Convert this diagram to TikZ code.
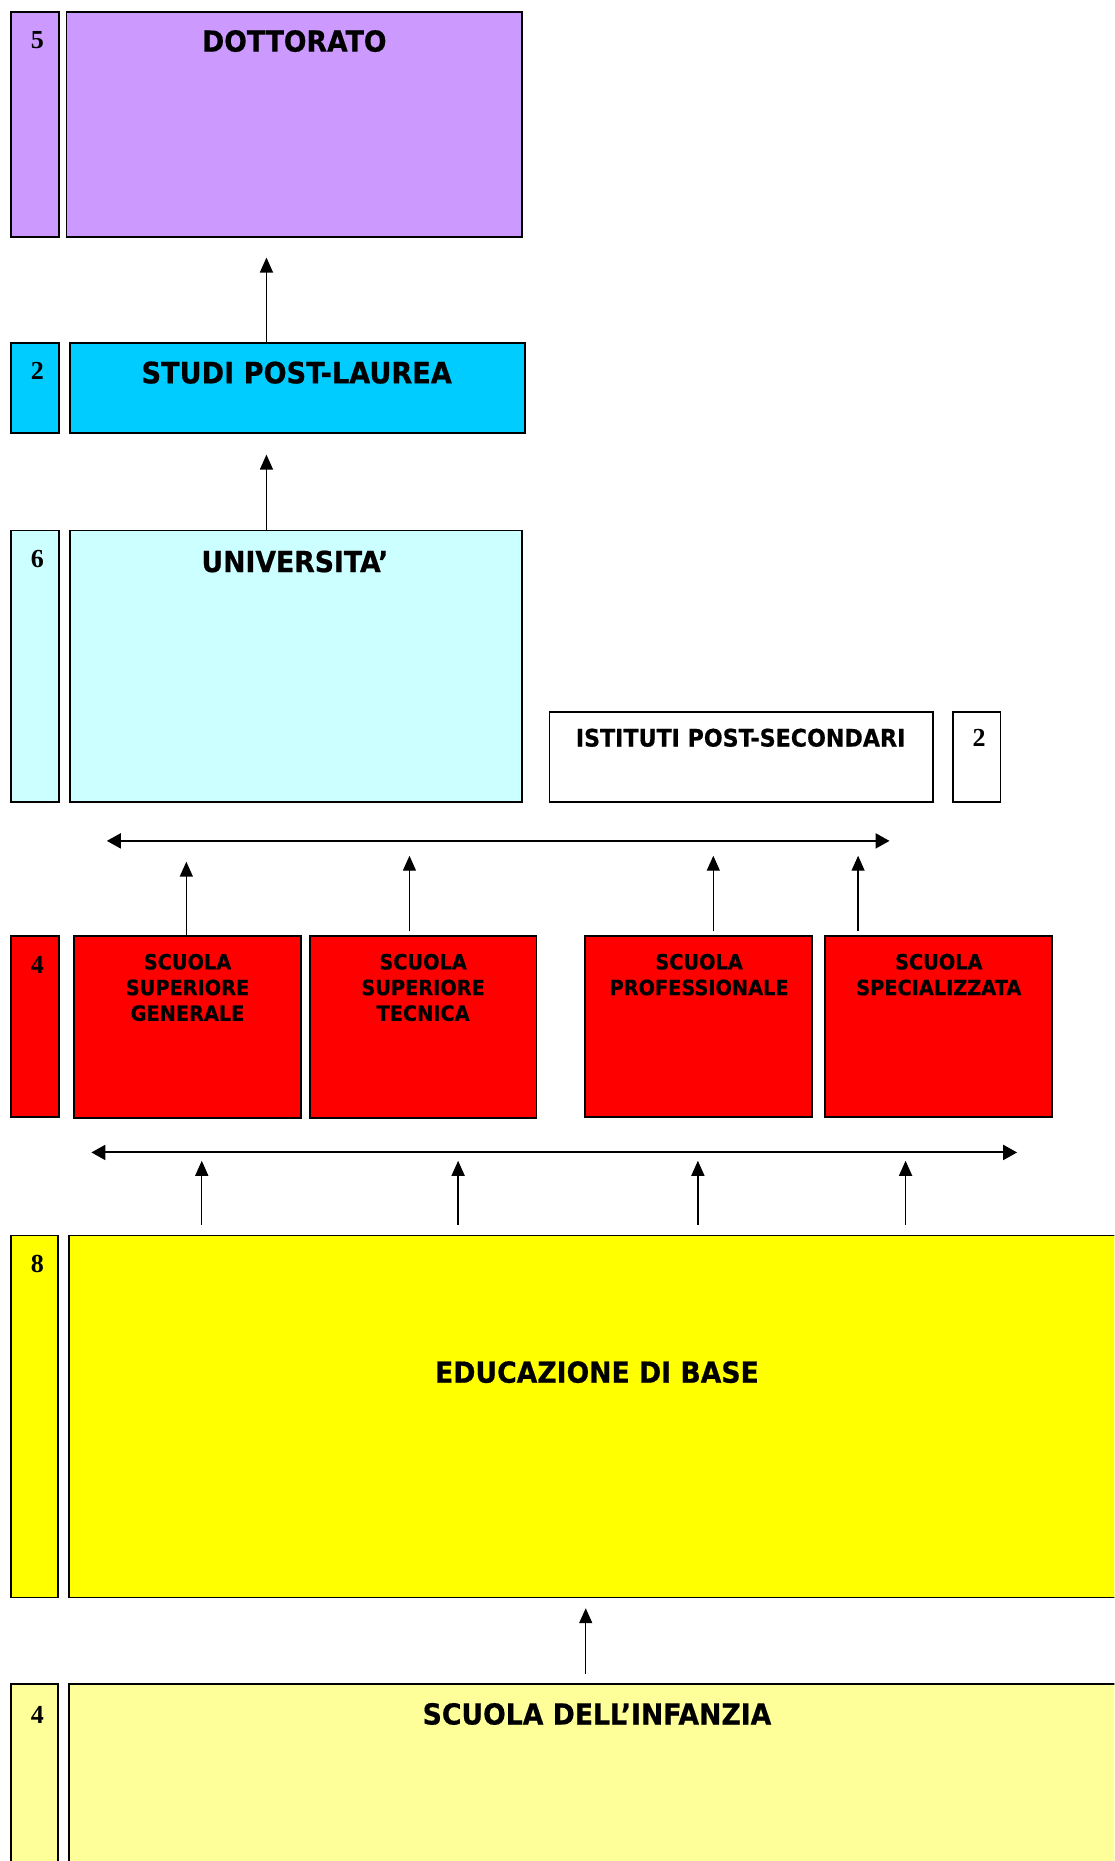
\documentclass[tikz,border=0pt]{standalone}
\usepackage{fontspec}
\setmainfont{Liberation Serif}
\newfontfamily\vb{DejaVu Sans}[FakeStretch=0.92,FakeBold=0.6]
\usetikzlibrary{arrows.meta,fit,calc}
\definecolor{lilla}{HTML}{CC99FF}
\definecolor{azzurro}{HTML}{00CCFF}
\definecolor{celeste}{HTML}{CCFFFF}
\definecolor{rosso}{HTML}{FF0000}
\definecolor{giallo}{HTML}{FFFF00}
\definecolor{giallino}{HTML}{FFFF99}
\begin{document}
\begin{tikzpicture}[x=1.1874bp,y=-1.1874bp,
  box/.style={draw=black, line width=1.9bp, inner sep=0pt, outer sep=0pt},
  big/.style={font=\vb\bfseries\fontsize{29bp}{34bp}\selectfont, anchor=base, inner sep=0pt},
  mid/.style={font=\vb\bfseries\fontsize{24.1bp}{28bp}\selectfont, anchor=base, inner sep=0pt},
  small/.style={font=\vb\bfseries\fontsize{21bp}{25.7bp}\selectfont, anchor=north, align=center, inner sep=0pt},
  num/.style={font=\bfseries\fontsize{26bp}{30bp}\selectfont, anchor=base, inner sep=0pt},
  arr/.style={line width=1.4bp, -{Triangle[length=15bp,width=13bp]}},
  darr/.style={line width=2bp, {Triangle[length=14bp,width=15bp]}-{Triangle[length=14bp,width=15bp]}}]
\useasboundingbox (0,0) rectangle (939,1568);
\clip (0,0) rectangle (939,1568);

% --- DOTTORATO
\node[box, fill=lilla, fit={(9,10) (50,200)}] (b5) {};
\node[box, fill=lilla, fit={(56,10) (440,200)}] (dott) {};
\node[num] (n5) at (31.5,41) {5};
\node[big] (tdott) at (248,43.5) {DOTTORATO};

% --- STUDI POST-LAUREA
\node[box, fill=azzurro, fit={(9,289) (50,365)}] (b2) {};
\node[box, fill=azzurro, fit={(59,289) (442,365)}] (studi) {};
\node[num] (n2) at (31.5,320) {2};
\node[big, font=\vb\bfseries\fontsize{29.5bp}{34bp}\selectfont] (tstudi) at (250,323) {STUDI POST-LAUREA};

% --- UNIVERSITA'
\node[box, fill=celeste, fit={(9,447) (50,676)}] (b6) {};
\node[box, fill=celeste, fit={(59,447) (440,676)}] (univ) {};
\node[num] (n6) at (31.5,478) {6};
\node[big] (tuniv) at (248.5,482) {UNIVERSITA’};

% --- ISTITUTI POST-SECONDARI
\node[box, fill=white, fit={(463,600) (786,676)}] (ist) {};
\node[box, fill=white, fit={(803,600) (843,676)}] (b2r) {};
\node[mid] (tist) at (624,629) {ISTITUTI POST-SECONDARI};
\node[num] (n2r) at (825,629) {2};

% --- red row
\node[box, fill=rosso, fit={(9,789) (49.5,941)}] (b4) {};
\node[box, fill=rosso, fit={(62.5,789) (253.5,942)}] (ssg) {};
\node[box, fill=rosso, fit={(261.5,789) (452,942)}] (sst) {};
\node[box, fill=rosso, fit={(493,789) (684.5,941)}] (sp) {};
\node[box, fill=rosso, fit={(695,789) (886.5,941)}] (ss) {};
\node[num] (n4) at (31.5,820) {4};
\node[small] (tssg) at (158,803.5) {SCUOLA\\SUPERIORE\\GENERALE};
\node[small] (tsst) at (356.5,803.5) {SCUOLA\\SUPERIORE\\TECNICA};
\node[small] (tsp) at (589,803.5) {SCUOLA\\PROFESSIONALE};
\node[small] (tss) at (791,803.5) {SCUOLA\\SPECIALIZZATA};

% --- EDUCAZIONE DI BASE
\node[box, fill=giallo, fit={(9,1041) (49,1346)}] (b8) {};
\node[box, fill=giallo, fit={(58.5,1041) (960,1346)}] (edu) {};
\node[num] (n8) at (31.5,1072) {8};
\node[big] (tedu) at (503,1165) {EDUCAZIONE DI BASE};

% --- SCUOLA DELL'INFANZIA
\node[box, fill=giallino, fit={(9,1419) (49,1600)}] (b4b) {};
\node[box, fill=giallino, fit={(58.5,1419) (960,1600)}] (inf) {};
\node[num] (n4b) at (31.5,1452) {4};
\node[big] (tinf) at (503,1453) {SCUOLA DELL’INFANZIA};

% --- arrows top
\coordinate (t1) at (224.5,217);
\draw[arr] (t1 |- studi.north) -- (t1);
\coordinate (t2) at (224.5,383);
\draw[arr] (t2 |- univ.north) -- (t2);

% --- double arrow 1 and arrows from red row
\coordinate (d1l) at (90,708.5);
\coordinate (d1r) at (749.5,708.5);
\draw[darr] (d1l) -- (d1r);
\draw[line width=2.6bp] ($(d1l)!0.61!(d1r)$) -- ($(d1l)!0.755!(d1r)$);
\coordinate (a1) at (157,726);
\coordinate (a2) at (345,721);
\coordinate (a3) at (601,721);
\coordinate (a4) at (723,721);
\draw[arr] (a1 |- ssg.north) -- (a1);
\draw[arr] ($(a2 |- sst.north)+(0,-4.5)$) -- (a2);
\draw[arr] ($(a3 |- sp.north)+(0,-4.5)$) -- (a3);
\draw[arr] ($(a4 |- ss.north)+(0,-4.5)$) -- (a4);

% --- double arrow 2 and arrows from yellow box
\coordinate (d2l) at (77,971);
\coordinate (d2r) at (857,971);
\draw[darr] (d2l) -- (d2r);
\coordinate (e1) at (170,978);
\coordinate (e2) at (386,978);
\coordinate (e3) at (588,978);
\coordinate (e4) at (763,978);
\foreach \e in {e1,e2,e3,e4}
  \draw[arr] ($(\e |- edu.north)+(0,-9)$) -- (\e);

% --- arrow infanzia -> base
\coordinate (f1) at (493.5,1355);
\draw[arr] ($(f1 |- inf.north)+(0,-8.5)$) -- (f1);
\end{tikzpicture}
\end{document}
